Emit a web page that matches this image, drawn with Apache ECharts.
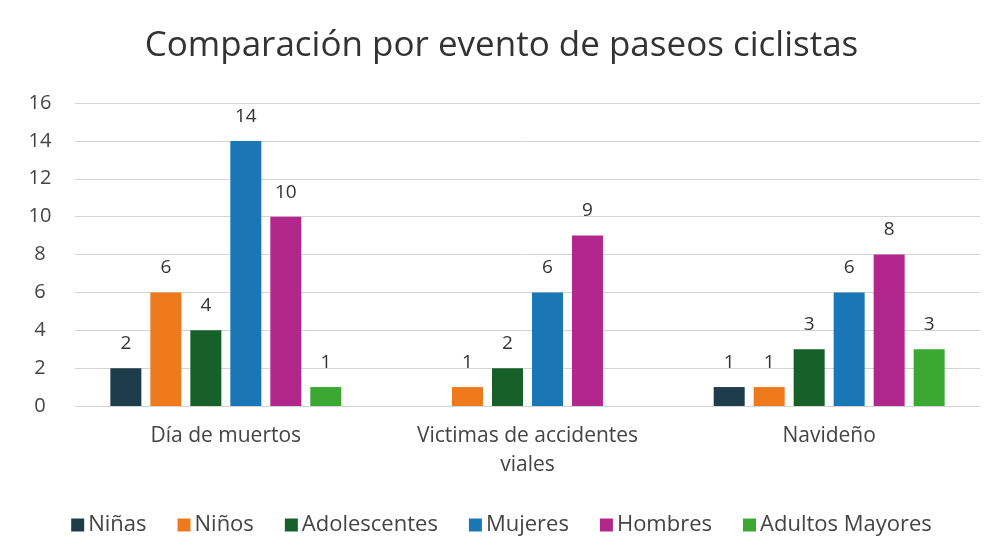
<!DOCTYPE html>
<html>
<head>
<meta charset="utf-8">
<script src="https://cdn.jsdelivr.net/npm/echarts@6/dist/echarts.min.js"></script>
<style>
  html, body { margin: 0; padding: 0; background: #fff; }
  #chart { width: 1003px; height: 555px; }
</style>
</head>
<body>
<div id="chart"></div>
<script>
// categorías del eje x
var categorias = ['Día de muertos', 'Victimas de accidentes\nviales', 'Navideño'];
var ninas = [2, null, 1];
var ninos = [6, 1, 1];
var adolescentes = [4, 2, 3];
var mujeres = [14, 6, 6];
var hombres = [10, 9, 8];
var adultosMayores = [1, null, 3];
var ticksY = [0, 2, 4, 6, 8, 10, 12, 14, 16];

var font = '"Open Sans", Roboto, sans-serif';

function serie(nombre, datos, color) {
  return {
    name: nombre,
    type: 'bar',
    data: datos,
    barWidth: 31,
    barGap: '29%',
    itemStyle: { color: color },
    label: {
      show: true,
      position: 'top',
      distance: 15,
      color: '#333',
      fontSize: 19,
      fontFamily: font
    }
  };
}

var myChart = echarts.init(document.getElementById('chart'));
myChart.setOption({
  animation: false,
  title: {
    text: 'Comparación por evento de paseos ciclistas',
    left: 'center',
    top: 24,
    textStyle: { color: '#333', fontSize: 35, fontWeight: 'normal', fontFamily: font }
  },
  legend: {
    bottom: 14,
    left: 'center',
    itemWidth: 13,
    itemHeight: 13,
    itemGap: 31,
    icon: 'rect',
    textStyle: { color: '#444', fontSize: 22, fontFamily: font, padding: [0, 0, 0, -1] }
  },
  grid: { left: 75, right: 23, top: 103, bottom: 149 },
  xAxis: {
    type: 'category',
    data: categorias,
    axisLine: { show: false },
    axisTick: { show: false },
    axisLabel: { color: '#444', fontSize: 21, fontFamily: font, margin: 16, lineHeight: 29 }
  },
  yAxis: {
    type: 'value',
    min: ticksY[0],
    max: ticksY[ticksY.length - 1],
    interval: 2,
    axisLabel: { color: '#444', fontSize: 20, fontFamily: font, margin: 35, align: 'center' },
    splitLine: { lineStyle: { color: '#d4d4d4' } }
  },
  series: [
    serie('Niñas', ninas, '#1e3c4c'),
    serie('Niños', ninos, '#ef7a1e'),
    serie('Adolescentes', adolescentes, '#17602a'),
    serie('Mujeres', mujeres, '#1a76b4'),
    serie('Hombres', hombres, '#b2278c'),
    serie('Adultos Mayores', adultosMayores, '#3aa833')
  ]
});
</script>
</body>
</html>
